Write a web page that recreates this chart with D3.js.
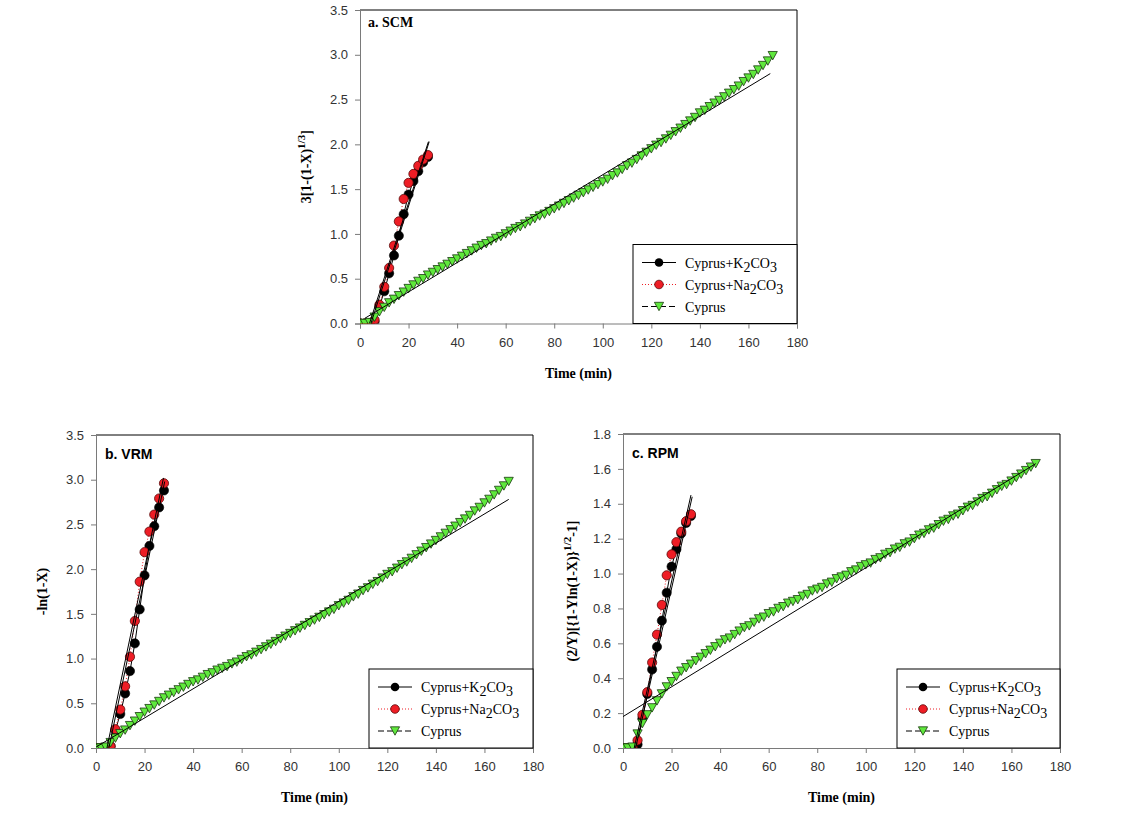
<!DOCTYPE html>
<html><head><meta charset="utf-8">
<script src="https://cdn.jsdelivr.net/npm/d3@7"></script>
<style>body{margin:0;background:#fff} svg{display:block}</style>
</head><body><svg id="chart" width="1129" height="821"></svg>
<script>
// ---------- DATA ----------
const timeSalt = [0,2,4,6,8,10,12,14,16,18,20,22,24,26,28];
const timeCyprus = [0,2,4,6,8,10,12,14,16,18,20,22,24,26,28,30,32,34,36,38,40,42,44,46,48,50,52,54,56,58,60,62,64,66,68,70,72,74,76,78,80,82,84,86,88,90,92,94,96,98,100,102,104,106,108,110,112,114,116,118,120,122,124,126,128,130,132,134,136,138,140,142,144,146,148,150,152,154,156,158,160,162,164,166,168,170];

const scmK  = [0,0,0,0.02,0.19,0.36,0.56,0.76,0.98,1.22,1.44,1.59,1.70,1.80,1.86];
const scmNa = [0,0,0,0.04,0.21,0.41,0.62,0.87,1.14,1.39,1.57,1.67,1.76,1.83,1.88];
const scmCyprus = [0,0,0.01,0.07,0.13,0.18,0.23,0.27,0.31,0.35,0.39,0.43,0.47,0.50,0.54,0.57,0.60,0.63,0.66,0.69,0.72,0.75,0.78,0.81,0.84,0.87,0.89,0.92,0.95,0.97,1.00,1.03,1.06,1.08,1.11,1.14,1.17,1.20,1.22,1.25,1.28,1.31,1.34,1.37,1.40,1.43,1.46,1.49,1.52,1.55,1.58,1.61,1.65,1.68,1.72,1.76,1.79,1.83,1.87,1.91,1.95,1.99,2.02,2.06,2.10,2.14,2.18,2.22,2.26,2.30,2.35,2.38,2.42,2.46,2.49,2.53,2.57,2.61,2.65,2.70,2.74,2.78,2.83,2.88,2.93,2.99];

const vrmK  = [0,0,0,0.02,0.20,0.38,0.61,0.86,1.17,1.55,1.93,2.26,2.48,2.69,2.88];
const vrmNa = [0,0,0,0.02,0.21,0.43,0.69,1.02,1.42,1.86,2.19,2.42,2.61,2.79,2.96];
const vrmCyprus = [0,0,0.01,0.06,0.11,0.16,0.20,0.25,0.30,0.35,0.40,0.44,0.48,0.52,0.56,0.59,0.62,0.65,0.68,0.71,0.74,0.76,0.79,0.82,0.84,0.87,0.89,0.91,0.94,0.96,0.99,1.02,1.04,1.07,1.10,1.13,1.16,1.19,1.22,1.25,1.28,1.31,1.34,1.37,1.40,1.43,1.46,1.49,1.52,1.55,1.59,1.62,1.65,1.69,1.72,1.76,1.79,1.83,1.86,1.90,1.94,1.97,2.01,2.05,2.08,2.12,2.16,2.20,2.24,2.28,2.32,2.36,2.40,2.44,2.48,2.52,2.56,2.60,2.65,2.69,2.74,2.78,2.83,2.88,2.93,2.98];

const rpmK  = [0,0,0,0.02,0.17,0.31,0.45,0.58,0.73,0.89,1.04,1.14,1.23,1.29,1.33];
const rpmNa = [0,0,0,0.044,0.19,0.32,0.49,0.65,0.82,0.99,1.11,1.18,1.24,1.30,1.34];
const rpmCyprus = [0,0,0.005,0.08,0.14,0.19,0.23,0.27,0.31,0.35,0.38,0.41,0.44,0.46,0.48,0.50,0.52,0.54,0.56,0.58,0.60,0.62,0.63,0.65,0.67,0.69,0.70,0.72,0.74,0.75,0.77,0.78,0.80,0.81,0.83,0.84,0.85,0.87,0.88,0.90,0.91,0.92,0.94,0.95,0.97,0.98,0.99,1.01,1.02,1.04,1.05,1.06,1.08,1.09,1.11,1.12,1.14,1.15,1.17,1.18,1.20,1.22,1.23,1.25,1.26,1.28,1.30,1.31,1.33,1.34,1.36,1.38,1.39,1.41,1.43,1.44,1.46,1.48,1.50,1.51,1.53,1.55,1.57,1.59,1.61,1.63];

// regression lines: [[t0, v0], [t1, v1]]
const scmFitK = [[4.5,0],[28.5,2.03]];
const scmFitNa = [[3.9,0],[28.2,2.03]];
const scmFitCyprus = [[2,0.058],[169,2.79]];
const vrmFitK = [[5.3,0],[28.3,2.98]];
const vrmFitNa = [[4.5,0],[27.8,3.02]];
const vrmFitCyprus = [[0,0.01],[170,2.78]];
const rpmFitK = [[5.2,0],[28.5,1.44]];
const rpmFitNa = [[4.6,0],[28,1.45]];
const rpmFitCyprus = [[0,0.18],[170,1.63]];

const xTicks = [0,20,40,60,80,100,120,140,160,180];
const yTicksA = [0,0.5,1.0,1.5,2.0,2.5,3.0,3.5];
const yTicksB = [0,0.5,1.0,1.5,2.0,2.5,3.0,3.5];
const yTicksC = [0,0.2,0.4,0.6,0.8,1.0,1.2,1.4,1.6,1.8];
const seriesNames = [["Cyprus+K","2","CO","3"],["Cyprus+Na","2","CO","3"],["Cyprus"]];
const xTitle = "Time (min)";

// ---------- DRAW ----------
const svg = d3.select("#chart");
const serif = "'Liberation Serif','Times New Roman',serif";
const sans = "'Liberation Sans',Arial,sans-serif";
const RED = "#ee1d25", GREEN = "#5fe83c";

const panels = [
  {box:{l:360,r:797,t:10,b:323.5}, yMax:3.5, yTicks:yTicksA, k:scmK, na:scmNa, cy:scmCyprus,
   fits:[scmFitK,scmFitNa,scmFitCyprus], label:"a. SCM", labelFont:serif, labelPos:[368,27],
   yTitle:[["3[1-(1-X)",""],["1/3","sup"],["]",""]], yTitleX:311, legendLeft:633},
  {box:{l:96,r:533,t:435,b:748}, yMax:3.5, yTicks:yTicksB, k:vrmK, na:vrmNa, cy:vrmCyprus,
   fits:[vrmFitK,vrmFitNa,vrmFitCyprus], label:"b. VRM", labelFont:sans, labelPos:[105,459],
   yTitle:[["-ln(1-X)",""]], yTitleX:47, legendLeft:369},
  {box:{l:623,r:1060,t:434,b:748}, yMax:1.8, yTicks:yTicksC, k:rpmK, na:rpmNa, cy:rpmCyprus,
   fits:[rpmFitK,rpmFitNa,rpmFitCyprus], label:"c. RPM", labelFont:sans, labelPos:[632,458],
   yTitle:[["(2/Y)[{1-Yln(1-X)}",""],["1/2","sup"],["-1]",""]], yTitleX:577, legendLeft:897}
];

function tri(g, cx, cy){
  const w=4.6, h=4.2;
  g.append("path").attr("d",`M${cx-w},${cy-h}L${cx+w},${cy-h}L${cx},${cy+h}Z`)
   .attr("fill",GREEN).attr("stroke","#1a3a10").attr("stroke-width",0.8);
}

panels.forEach(p=>{
  const {l,r,t,b} = p.box;
  const x = d3.scaleLinear().domain([0,180]).range([l,r]);
  const y = d3.scaleLinear().domain([0,p.yMax]).range([b,t]);
  const g = svg.append("g");

  g.append("path").attr("d",`M${l},${t}H${r}V${b}`).attr("fill","none").attr("stroke","#000").attr("stroke-width",1);

  const xa = g.append("g").attr("transform",`translate(0,${b})`)
    .call(d3.axisBottom(x).tickValues(xTicks).tickSize(5).tickPadding(9).tickFormat(d3.format("d")));
  const ya = g.append("g").attr("transform",`translate(${l},0)`)
    .call(d3.axisLeft(y).tickValues(p.yTicks).tickSize(5).tickPadding(7).tickFormat(d3.format(".1f")));
  [xa,ya].forEach(a=>{
    a.select(".domain").attr("stroke","#7a7a7a");
    a.selectAll(".tick line").attr("stroke","#7a7a7a");
    a.selectAll("text").attr("font-family",sans).attr("font-size",13).attr("fill","#333");
  });

  const clipId = "clip"+l;
  svg.append("clipPath").attr("id",clipId).append("rect").attr("x",l).attr("y",t).attr("width",r-l).attr("height",b-t);
  const pg = g.append("g").attr("clip-path",`url(#${clipId})`);
  const line = d3.line().x(d=>x(d[0])).y(d=>y(d[1]));

  pg.append("path").datum(timeSalt.map((tt,i)=>[tt,p.k[i]])).attr("d",line)
    .attr("fill","none").attr("stroke","#000").attr("stroke-width",1);
  pg.append("path").datum(timeSalt.map((tt,i)=>[tt,p.na[i]])).attr("d",line)
    .attr("fill","none").attr("stroke",RED).attr("stroke-width",1).attr("stroke-dasharray","1,2");
  pg.append("path").datum(timeCyprus.map((tt,i)=>[tt,p.cy[i]])).attr("d",line)
    .attr("fill","none").attr("stroke","#000").attr("stroke-width",1).attr("stroke-dasharray","6,3");

  timeSalt.forEach((tt,i)=>{
    pg.append("circle").attr("cx",x(tt)).attr("cy",y(p.k[i])).attr("r",4.6)
      .attr("fill","#000").attr("stroke","#000").attr("stroke-width",0.6);
  });
  timeSalt.forEach((tt,i)=>{
    pg.append("circle").attr("cx",x(tt)).attr("cy",y(p.na[i])).attr("r",4.6)
      .attr("fill",RED).attr("stroke","#5a0a0a").attr("stroke-width",0.8);
  });
  timeCyprus.forEach((tt,i)=>{ tri(pg, x(tt), y(p.cy[i])); });

  p.fits.forEach(f=>{
    pg.append("path").datum(f).attr("d",line).attr("fill","none").attr("stroke","#000").attr("stroke-width",1);
  });

  g.append("text").attr("x",p.labelPos[0]).attr("y",p.labelPos[1]).text(p.label)
    .attr("font-family",p.labelFont).attr("font-weight","bold").attr("font-size",14).attr("fill","#000");

  g.append("text").attr("x",(l+r)/2).attr("y",b+54).attr("text-anchor","middle")
    .attr("font-family",serif).attr("font-weight","bold").attr("font-size",14).attr("fill","#000").text(xTitle);
  const yt = g.append("text").attr("transform",`translate(${p.yTitleX},${(t+b)/2}) rotate(-90)`)
    .attr("text-anchor","middle").attr("font-family",serif).attr("font-weight","bold").attr("font-size",14).attr("fill","#000");
  p.yTitle.forEach((s,i)=>{
    const ts = yt.append("tspan").text(s[0]);
    if(s[1]==="sup"){ ts.attr("dy",-6).attr("font-size",11); }
    else if(i>0 && p.yTitle[i-1][1]==="sup"){ ts.attr("dy",6); }
  });

  const L = p.legendLeft, T = b-79;
  const lg = g.append("g");
  lg.append("rect").attr("x",L).attr("y",T).attr("width",r-L).attr("height",b-T)
    .attr("fill","#fff").attr("stroke","#000").attr("stroke-width",1);
  const rows = [T+18, T+40, T+62];
  const styles = [
    {stroke:"#000", dash:null, mk:"k"},
    {stroke:RED, dash:"1,2", mk:"na"},
    {stroke:"#000", dash:"6,3", mk:"cy"}
  ];
  seriesNames.forEach((nm,i)=>{
    const yy = rows[i];
    const st = styles[i];
    const ln = lg.append("line").attr("x1",L+9).attr("x2",L+43).attr("y1",yy).attr("y2",yy)
      .attr("stroke",st.stroke).attr("stroke-width",1);
    if(st.dash) ln.attr("stroke-dasharray",st.dash);
    const mx = L+26;
    if(st.mk==="k") lg.append("circle").attr("cx",mx).attr("cy",yy).attr("r",4.3).attr("fill","#000");
    else if(st.mk==="na") lg.append("circle").attr("cx",mx).attr("cy",yy).attr("r",4.3).attr("fill",RED).attr("stroke","#5a0a0a").attr("stroke-width",0.8);
    else tri(lg, mx, yy);
    const tx = lg.append("text").attr("x",L+52).attr("y",yy+5).attr("font-family",serif)
      .attr("font-size",14).attr("fill","#000");
    nm.forEach((s,j)=>{
      const ts = tx.append("tspan").text(s);
      if(j%2===1) ts.attr("dy",4);
      else if(j>0) ts.attr("dy",-4);
    });
  });
});
</script></body></html>
